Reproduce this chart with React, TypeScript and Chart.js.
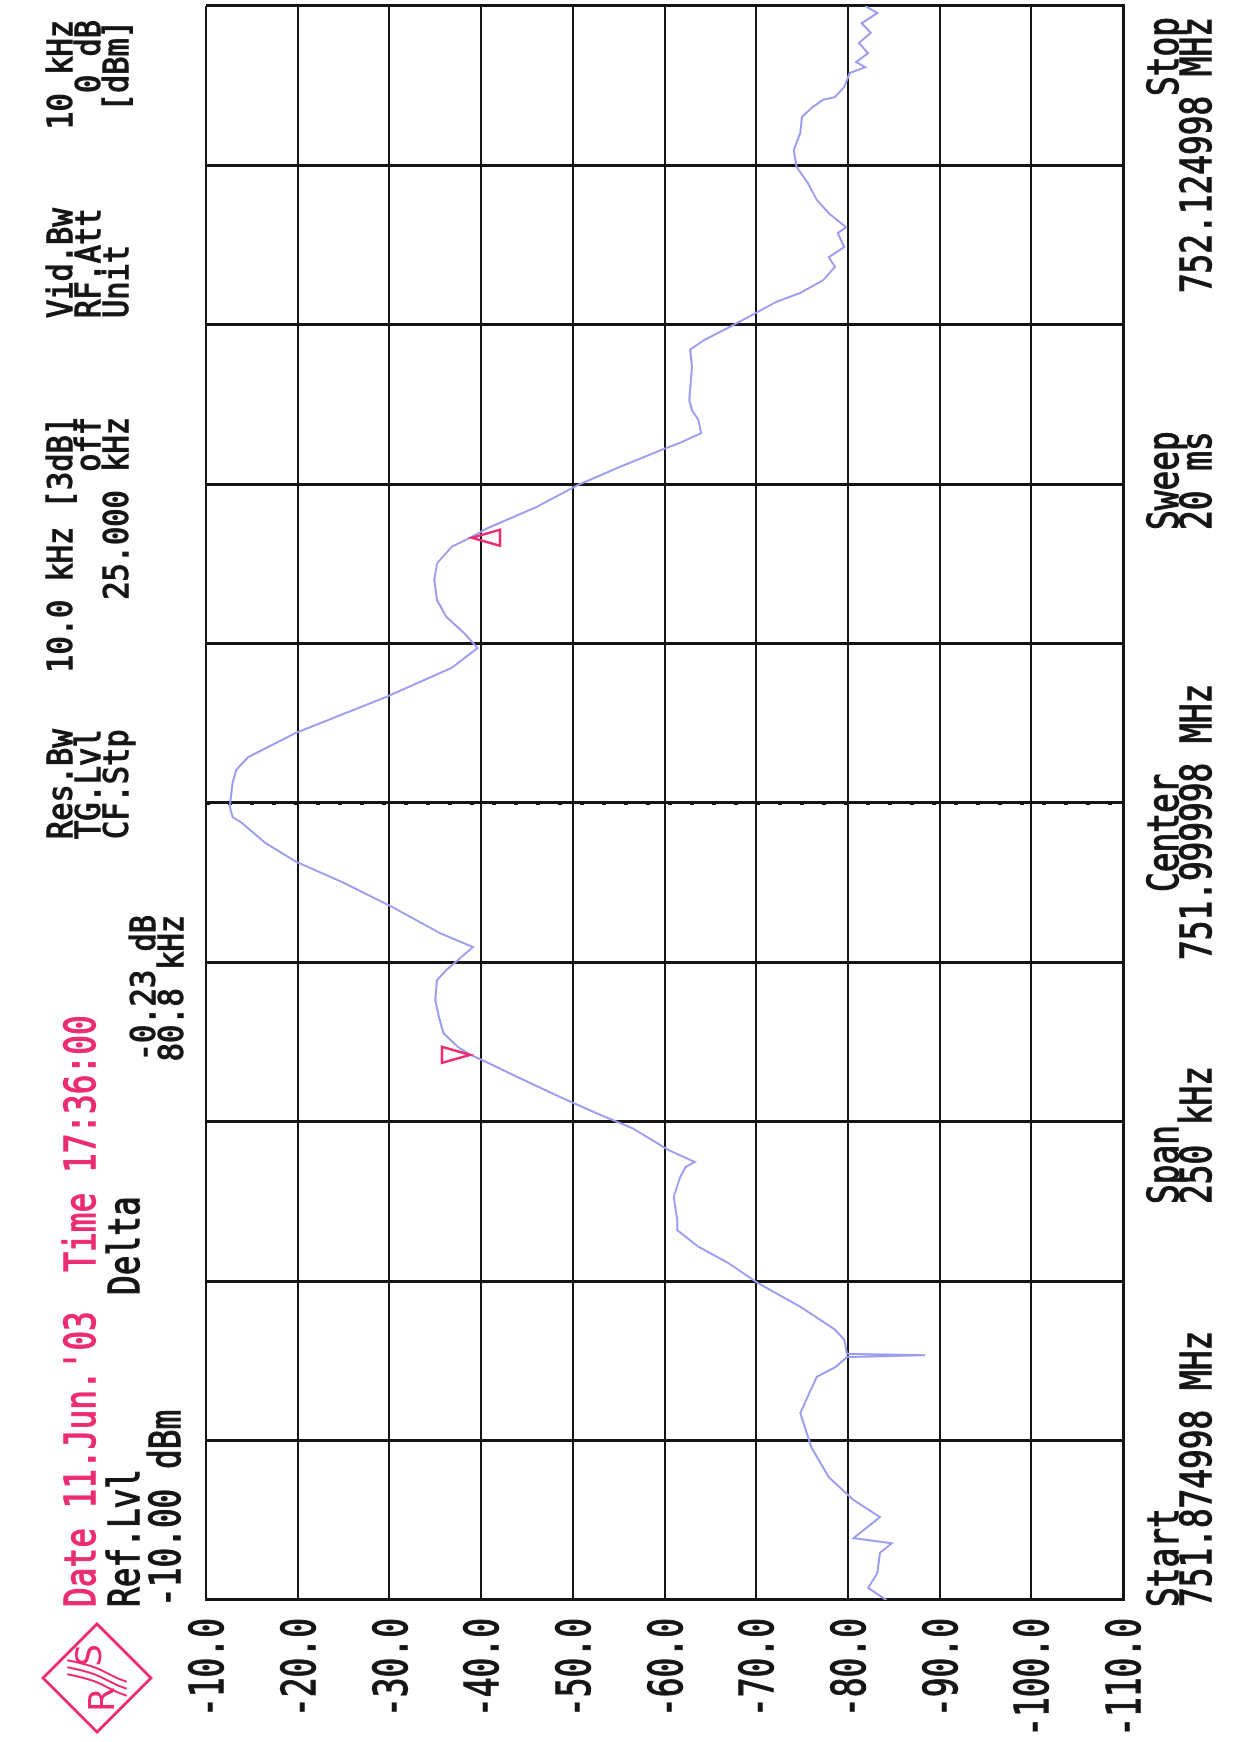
import React, { useEffect, useRef } from 'react';
import { Chart, registerables } from 'chart.js';

Chart.register(...registerables);

// trace: offset from start frequency (kHz) and level (dBm)
const freqKHz = [
  0, 1.9, 4.2, 7.4, 8.9, 9.7, 13.0, 15.7, 19.3, 24.0, 29.3, 32.5, 35.0, 36.5, 38.1, 38.4, 38.6,
  40.8, 42.4, 46.0, 49.7, 52.9, 55.4, 58.0, 59.6, 63.2, 66.3, 67.9, 68.7, 70.6, 74.0, 76.4, 78.9,
  82.0, 84.7, 85.5, 86.7, 88.9, 91.4, 94.1, 97.2, 98.8, 100.4, 102.4, 104.6, 108.7, 112.5, 115.8,
  118.7, 121.9, 122.8, 124.4, 128.1, 130.2, 132.2, 136.0, 141.6, 146.2, 149.3, 151.7, 154.2, 156.8,
  160.0, 162.6, 165.2, 166.6, 168.1, 171.4, 174.9, 177.7, 180.4, 181.5, 183.0, 185.1, 186.6, 188.2,
  193.4, 196.1, 197.6, 199.5, 201.5, 203.6, 205.0, 207.0, 209.1, 210.6, 212.2, 214.4, 215.3, 217.5,
  219.6, 222.3, 224.8, 227.4, 230.1, 232.6, 234.1, 235.3, 235.7, 237.3, 239.5, 240.4, 241.2, 242.6,
  244.2, 245.8, 247.3, 248.9, 250.0,
];
const levelDbm = [
  -84.2, -82.2, -83.2, -83.5, -84.8, -80.6, -83.5, -80.6, -77.9, -76.0, -74.8, -75.8, -76.6, -78.6, -79.9, -88.4, -79.9,
  -79.6, -78.6, -74.8, -70.2, -66.9, -63.7, -61.4, -61.4, -61.0, -61.7, -62.3, -63.3, -60.4, -56.5, -52.5, -48.6,
  -44.0, -40.1, -38.8, -37.5, -35.9, -35.4, -35.0, -35.2, -36.2, -37.5, -39.1, -35.5, -30.3, -25.0, -19.8,
  -16.5, -13.9, -12.9, -12.6, -12.9, -13.3, -14.6, -19.8, -29.6, -36.8, -39.6, -38.1, -36.2, -35.2,
  -34.9, -35.2, -36.8, -38.8, -40.7, -46.0, -50.6, -55.1, -59.7, -61.7, -64.0, -63.7, -63.0, -62.7,
  -63.0, -62.8, -64.3, -66.9, -69.5, -72.2, -74.8, -77.3, -78.6, -77.9, -79.6, -78.9, -79.8, -77.9,
  -76.6, -75.6, -74.4, -74.1, -74.8, -75.0, -76.1, -77.3, -78.6, -79.6, -80.2, -81.9, -80.9, -82.2,
  -81.2, -82.5, -81.5, -83.2, -81.9,
];

// marker 1 (normal, drawn above) and delta marker (drawn below)
const markerKHz = [85.5, 166.6];
const markerDbm = [-38.8, -39.0];
const markerDelta = [false, true];

const spanKHz = 250;
const centerKHz = 125;
const refLevelDbm = -10;
const bottomDbm = -110;
const dbPerDiv = 10;
const kHzPerDiv = 25;

const PAGE_W = 1233;
const PAGE_H = 1742;
const PINK = '#ec2c72';
const INK = '#151515';
const MONO = '"DejaVu Sans Mono", "Liberation Mono", monospace';

// vc = vertical centre of the capitals, sx = horizontal squeeze
function text(ctx, s, x, vc, align, size, sx, color = INK) {
  ctx.save();
  ctx.translate(x, vc + size * 0.364);
  ctx.scale(sx, 1);
  ctx.font = `${size}px ${MONO}`;
  ctx.textAlign = align;
  ctx.textBaseline = 'alphabetic';
  ctx.fillStyle = color;
  ctx.strokeStyle = color;
  ctx.lineWidth = 1.3;
  ctx.fillText(s, 0, 0);
  ctx.strokeText(s, 0, 0);
  ctx.restore();
}

function drawLogo(ctx, cu, cv, r) {
  ctx.save();
  ctx.strokeStyle = PINK;
  ctx.fillStyle = PINK;
  ctx.lineWidth = 3;
  ctx.beginPath();
  ctx.moveTo(cu - r, cv);
  ctx.lineTo(cu, cv - r);
  ctx.lineTo(cu + r, cv);
  ctx.lineTo(cu, cv + r);
  ctx.closePath();
  ctx.stroke();
  ctx.font = `36px "DejaVu Sans"`;
  ctx.textAlign = 'center';
  ctx.textBaseline = 'middle';
  ctx.fillText('R', cu - r * 0.4, cv + r * 0.15);
  ctx.fillText('S', cu + r * 0.42, cv - r * 0.1);
  ctx.lineWidth = 2;
  for (let k = 0; k < 3; k++) {
    const o = (k - 1) * 7;
    ctx.beginPath();
    ctx.moveTo(cu - r * 0.2 + o, cv + r * 0.55);
    ctx.bezierCurveTo(cu - r * 0.05 + o, cv + r * 0.1, cu + r * 0.05 + o, cv + r * 0.2, cu + r * 0.2 + o, cv - r * 0.55);
    ctx.stroke();
  }
  ctx.restore();
}

const printout = {
  id: 'printout',
  afterDraw(chart) {
    const { ctx } = chart;
    const xs = chart.scales.x;
    const ys = chart.scales.y;

    // level scale labels, one per tick
    ys.ticks.forEach((t) => {
      text(ctx, t.value.toFixed(1), 124, ys.getPixelForValue(t.value), 'right', 47, 0.7);
    });

    // markers
    markerKHz.forEach((f, i) => {
      const px = xs.getPixelForValue(f);
      const py = ys.getPixelForValue(markerDbm[i]);
      const dir = markerDelta[i] ? 1 : -1;
      ctx.save();
      ctx.strokeStyle = PINK;
      ctx.lineWidth = 2.5;
      ctx.beginPath();
      ctx.moveTo(px, py);
      ctx.lineTo(px - 8, py + dir * 28);
      ctx.lineTo(px + 8, py + dir * 28);
      ctx.closePath();
      ctx.stroke();
      ctx.restore();
    });

    drawLogo(ctx, 64, 97, 54);

    const hs = 42;
    const hx = 0.78;
    text(ctx, "Date 11.Jun.'03  Time 17:36:00", 135, 80, 'left', hs, hx, PINK);
    text(ctx, 'Ref.Lvl', 135, 124, 'left', hs, hx);
    text(ctx, '-10.00 dBm', 135, 165, 'left', hs, hx);
    text(ctx, 'Delta', 447, 124, 'left', hs, hx);

    const rs = 33;
    const rx = 0.92;
    text(ctx, '-0.23 dB', 827, 143, 'right', rs, rx);
    text(ctx, '80.8 kHz', 827, 171, 'right', rs, rx);

    text(ctx, 'Res.Bw', 903, 60, 'left', rs, rx);
    text(ctx, 'TG.Lvl', 903, 88, 'left', rs, rx);
    text(ctx, 'CF.Stp', 903, 116, 'left', rs, rx);
    text(ctx, '10.0 kHz [3dB]', 1325, 60, 'right', rs, rx);
    text(ctx, 'off', 1325, 88, 'right', rs, rx);
    text(ctx, '25.000 kHz', 1325, 116, 'right', rs, rx);
    text(ctx, 'Vid.Bw', 1424, 60, 'left', rs, rx);
    text(ctx, 'RF.Att', 1424, 88, 'left', rs, rx);
    text(ctx, 'Unit', 1424, 116, 'left', rs, rx);
    text(ctx, '10 kHz', 1722, 60, 'right', rs, rx);
    text(ctx, '0 dB', 1722, 88, 'right', rs, rx);
    text(ctx, '[dBm]', 1722, 116, 'right', rs, rx);

    const l1 = 1163;
    const l2 = 1196;
    text(ctx, 'Start', 135, l1, 'left', hs, hx);
    text(ctx, '751.874998 MHz', 135, l2, 'left', hs, hx);
    text(ctx, 'Span', 538, l1, 'left', hs, hx);
    text(ctx, '250 kHz', 538, l2, 'left', hs, hx);
    text(ctx, 'Center', 850, l1, 'left', hs, hx);
    text(ctx, '751.999998 MHz', 782, l2, 'left', hs, hx);
    text(ctx, 'Sweep', 1212, l1, 'left', hs, hx);
    text(ctx, '20 ms', 1212, l2, 'left', hs, hx);
    text(ctx, 'Stop', 1725, l1, 'right', hs, hx);
    text(ctx, '752.124998 MHz', 1725, l2, 'right', hs, hx);
  },
};

const whiteBg = {
  id: 'whiteBg',
  beforeDraw(chart) {
    const { ctx, width, height } = chart;
    ctx.save();
    ctx.fillStyle = '#ffffff';
    ctx.fillRect(0, 0, width, height);
    ctx.restore();
  },
};

function SpectrumPrintout() {
  const canvasRef = useRef(null);

  useEffect(() => {
    const chart = new Chart(canvasRef.current, {
      type: 'line',
      data: {
        datasets: [
          {
            data: freqKHz.map((f, i) => ({ x: f, y: levelDbm[i] })),
            borderColor: '#9a9cf0',
            borderWidth: 2,
            pointRadius: 0,
            tension: 0,
          },
          {
            data: [
              { x: centerKHz, y: refLevelDbm },
              { x: centerKHz, y: bottomDbm },
            ],
            borderColor: INK,
            borderWidth: 4,
            borderDash: [4, 18],
            pointRadius: 0,
          },
        ],
      },
      options: {
        animation: false,
        responsive: false,
        devicePixelRatio: 1,
        layout: { padding: { left: 142, right: 6, top: 206, bottom: 110 } },
        plugins: { legend: { display: false }, tooltip: { enabled: false } },
        scales: {
          x: {
            type: 'linear',
            min: 0,
            max: spanKHz,
            ticks: { stepSize: kHzPerDiv, display: false },
            grid: { color: INK, lineWidth: 3, drawTicks: false },
            border: { display: true, color: INK, width: 3 },
            afterFit: (s) => { s.height = 0; },
          },
          y: {
            min: bottomDbm,
            max: refLevelDbm,
            ticks: { stepSize: dbPerDiv, display: false },
            grid: { color: INK, lineWidth: 2, drawTicks: false },
            border: { display: true, color: INK, width: 2.5 },
            afterFit: (s) => { s.width = 0; },
          },
        },
      },
      plugins: [whiteBg, printout],
    });
    return () => chart.destroy();
  }, []);

  return (
    <div style={{ position: 'absolute', left: 0, top: 0, width: PAGE_W, height: PAGE_H, overflow: 'hidden', background: '#fff' }}>
      <canvas
        ref={canvasRef}
        width={PAGE_H}
        height={PAGE_W}
        style={{
          position: 'absolute',
          left: 0,
          top: 0,
          transformOrigin: '0 0',
          transform: `translate(0px, ${PAGE_H}px) rotate(-90deg)`,
        }}
      />
    </div>
  );
}

export default function App() {
  return <SpectrumPrintout />;
}
